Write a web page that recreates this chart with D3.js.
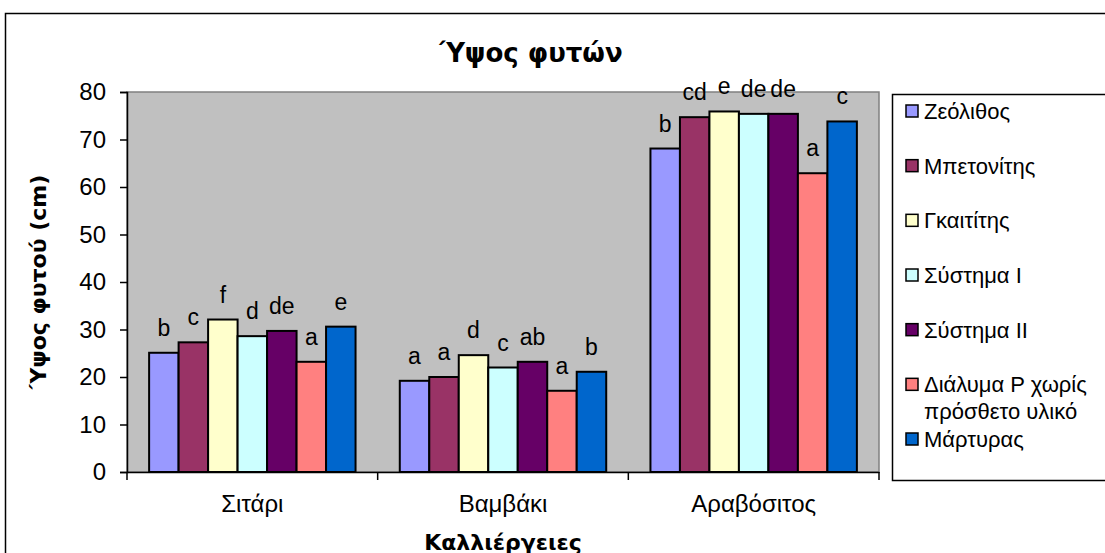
<!DOCTYPE html>
<html>
<head>
<meta charset="utf-8">
<script src="https://cdn.jsdelivr.net/npm/d3@7"></script>
<style>
  body { margin: 0; background: white; }
  svg { display: block; }
</style>
</head>
<body>
<div id="chart"></div>
<script>
const
  categories = ['Σιτάρι', 'Βαμβάκι', 'Αραβόσιτος'],
  series = ['Ζεόλιθος', 'Μπετονίτης', 'Γκαιτίτης', 'Σύστημα Ι', 'Σύστημα ΙΙ', 'Διάλυμα P χωρίς πρόσθετο υλικό', 'Μάρτυρας'],
  legendLines = [['Ζεόλιθος'], ['Μπετονίτης'], ['Γκαιτίτης'], ['Σύστημα Ι'], ['Σύστημα ΙΙ'], ['Διάλυμα  P χωρίς', 'πρόσθετο υλικό'], ['Μάρτυρας']],
  seriesColors = ['#9999ff', '#993366', '#ffffcc', '#ccffff', '#660066', '#ff8080', '#0066cc'],
  // one array per category, one value per series
  valuesSitari = [25.1, 27.3, 32.1, 28.6, 29.7, 23.2, 30.6],
  valuesVamvaki = [19.2, 20.0, 24.6, 22.0, 23.2, 17.1, 21.1],
  valuesAravositos = [68.1, 74.7, 75.9, 75.4, 75.4, 62.9, 73.8],
  lettersSitari = ['b', 'c', 'f', 'd', 'de', 'a', 'e'],
  lettersVamvaki = ['a', 'a', 'd', 'c', 'ab', 'a', 'b'],
  lettersAravositos = ['b', 'cd', 'e', 'de', 'de', 'a', 'c'],
  yTicks = [0, 10, 20, 30, 40, 50, 60, 70, 80];

const values = [valuesSitari, valuesVamvaki, valuesAravositos];
const letters = [lettersSitari, lettersVamvaki, lettersAravositos];

let
  W = 1105,
  H = 553,
  pad = { top: 92, left: 127, right: 879, bottom: 472 },
  textFont = '"Liberation Sans", Arial, sans-serif',
  titleFont = '"DejaVu Sans", Tahoma, sans-serif',
  svg, x0, x1, y, plot, group, legend, item;

svg = d3.select('#chart')
  .append('svg')
  .attr('width', W)
  .attr('height', H);

// outer chart border
svg.append('rect')
  .attr('x', 5.5)
  .attr('y', 13.5)
  .attr('width', W + 20)
  .attr('height', H + 20)
  .attr('fill', 'white')
  .attr('stroke', 'black')
  .attr('stroke-width', 1.5);

x0 = d3.scaleBand()
  .domain(categories)
  .range([pad.left, pad.right]);

let gap = x0.bandwidth() * 0.75 / 8.5;

x1 = d3.scaleBand()
  .domain(series)
  .range([gap, x0.bandwidth() - gap]);

y = d3.scaleLinear()
  .domain([0, 80])
  .range([pad.bottom, pad.top]);

// plot area
svg.append('rect')
  .attr('x', pad.left)
  .attr('y', pad.top)
  .attr('width', pad.right - pad.left)
  .attr('height', pad.bottom - pad.top)
  .attr('fill', '#c0c0c0')
  .attr('stroke', '#808080')
  .attr('stroke-width', 1.5);

plot = svg.append('g');

group = plot.selectAll('g.cat')
  .data(categories)
  .enter().append('g')
  .attr('class', 'cat')
  .attr('transform', function (d) { return 'translate(' + x0(d) + ',0)'; });

group.selectAll('rect')
  .data(function (d, i) {
    return series.map(function (s, j) { return { s: s, v: values[i][j], l: letters[i][j], c: seriesColors[j] }; });
  })
  .enter().append('rect')
  .attr('x', function (d) { return x1(d.s); })
  .attr('y', function (d) { return y(d.v); })
  .attr('width', x1.bandwidth())
  .attr('height', function (d) { return y(0) - y(d.v); })
  .attr('fill', function (d) { return d.c; })
  .attr('stroke', 'black')
  .attr('stroke-width', 2);

// significance letters
group.selectAll('text')
  .data(function (d, i) {
    return series.map(function (s, j) { return { s: s, v: values[i][j], l: letters[i][j] }; });
  })
  .enter().append('text')
  .attr('x', function (d) { return x1(d.s) + x1.bandwidth() / 2; })
  .attr('y', function (d) { return y(d.v) - 17; })
  .attr('text-anchor', 'middle')
  .attr('font-family', textFont)
  .attr('font-size', 23)
  .attr('fill', 'black')
  .text(function (d) { return d.l; });

// y axis
svg.append('g')
  .attr('transform', 'translate(' + pad.left + ',0)')
  .call(d3.axisLeft(y).tickValues(yTicks).tickSize(7).tickPadding(14))
  .call(function (g) {
    g.selectAll('path, line').attr('stroke', 'black').attr('stroke-width', 1.5);
    g.selectAll('text').attr('font-family', textFont).attr('font-size', 24).attr('fill', 'black');
  });

// x axis
svg.append('g')
  .attr('transform', 'translate(0,' + pad.bottom + ')')
  .call(d3.axisBottom(x0).tickSize(0).tickPadding(23))
  .call(function (g) {
    g.select('.domain').attr('stroke', 'black').attr('stroke-width', 1.5);
    g.selectAll('text').attr('font-family', textFont).attr('font-size', 24).attr('fill', 'black');
  });

// category separators
svg.append('g')
  .selectAll('line')
  .data(categories.concat(['end']))
  .enter().append('line')
  .attr('x1', function (d, i) { return pad.left + i * x0.step(); })
  .attr('x2', function (d, i) { return pad.left + i * x0.step(); })
  .attr('y1', pad.bottom)
  .attr('y2', pad.bottom + 8)
  .attr('stroke', 'black')
  .attr('stroke-width', 1.5);

// titles
svg.append('text')
  .attr('x', 531)
  .attr('y', 62)
  .attr('text-anchor', 'middle')
  .attr('font-family', titleFont)
  .attr('font-weight', 'bold')
  .attr('font-size', 26)
  .text('Ύψος φυτών');

svg.append('text')
  .attr('transform', 'translate(46,' + ((pad.top + pad.bottom) / 2) + ') rotate(-90)')
  .attr('text-anchor', 'middle')
  .attr('font-family', titleFont)
  .attr('font-weight', 'bold')
  .attr('font-size', 22)
  .text('Ύψος φυτού (cm)');

svg.append('text')
  .attr('x', (pad.left + pad.right) / 2)
  .attr('y', 550)
  .attr('text-anchor', 'middle')
  .attr('font-family', titleFont)
  .attr('font-weight', 'bold')
  .attr('font-size', 22)
  .text('Καλλιέργειες');

// legend
legend = svg.append('g');

legend.append('rect')
  .attr('x', 892.5)
  .attr('y', 94.5)
  .attr('width', 240)
  .attr('height', 386)
  .attr('fill', 'white')
  .attr('stroke', 'black')
  .attr('stroke-width', 1.5);

let ly = d3.scalePoint()
  .domain(series)
  .range([111, 439]);

item = legend.selectAll('g.item')
  .data(series)
  .enter().append('g')
  .attr('class', 'item')
  .attr('transform', function (d) { return 'translate(906,' + ly(d) + ')'; });

item.append('rect')
  .attr('x', 0)
  .attr('y', -6)
  .attr('width', 12)
  .attr('height', 12)
  .attr('fill', function (d, i) { return seriesColors[i]; })
  .attr('stroke', 'black')
  .attr('stroke-width', 1.5);

item.append('text')
  .attr('x', 18)
  .attr('y', 8)
  .attr('font-family', textFont)
  .attr('font-size', 22)
  .attr('fill', 'black')
  .selectAll('tspan')
  .data(function (d, i) { return legendLines[i]; })
  .enter().append('tspan')
  .attr('x', 18)
  .attr('dy', function (d, i) { return i === 0 ? 0 : 27; })
  .text(function (d) { return d; });
</script>
</body>
</html>
